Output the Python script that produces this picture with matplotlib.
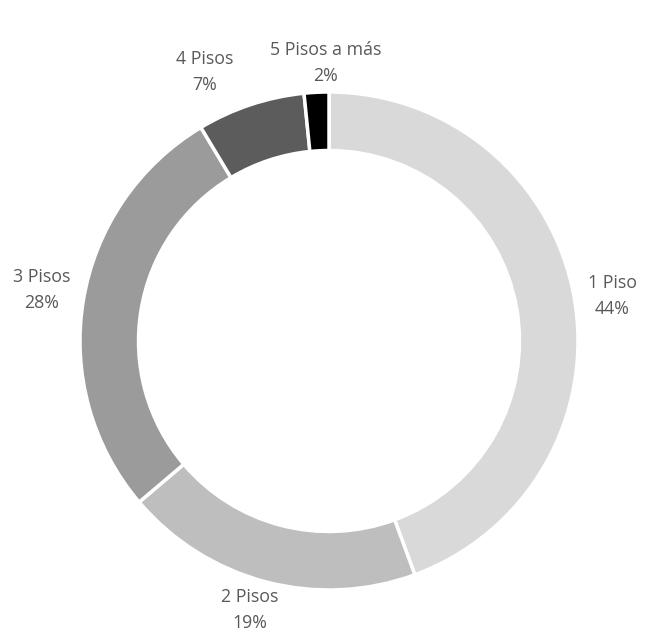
import matplotlib.pyplot as plt

categories = ['1 Piso', '2 Pisos', '3 Pisos', '4 Pisos', '5 Pisos a más']
shares = [44.4, 19.4, 27.6, 7.0, 1.6]
pct_labels = ['44%', '19%', '28%', '7%', '2%']
colors = ['#D9D9D9', '#BEBEBE', '#9B9B9B', '#5C5C5C', '#000000']

# label anchor points in pixel coords (x, y from top)
label_pos = [(612, 296), (250, 610), (42, 290), (205, 72), (326, 63)]

W, H = 649, 633
fig = plt.figure(figsize=(W / 100, H / 100), dpi=100)
ax = fig.add_axes([0, 0, 1, 1])

cx, cy, r = 329, H - 341, 249
ax.pie(shares, colors=colors, startangle=90, counterclock=False,
       center=(cx, cy), radius=r, frame=True,
       wedgeprops=dict(width=r * 0.235, edgecolor='white', linewidth=2.5))
ax.set_xlim(0, W)
ax.set_ylim(0, H)
ax.set_aspect('equal')
ax.axis('off')

for cat, pct, (x, y) in zip(categories, pct_labels, label_pos):
    ax.text(x, H - y, cat + '\n' + pct, ha='center', va='center',
            fontsize=12.8, color='#595959', family='Open Sans', linespacing=1.55)

plt.savefig('out.png', dpi=100)
